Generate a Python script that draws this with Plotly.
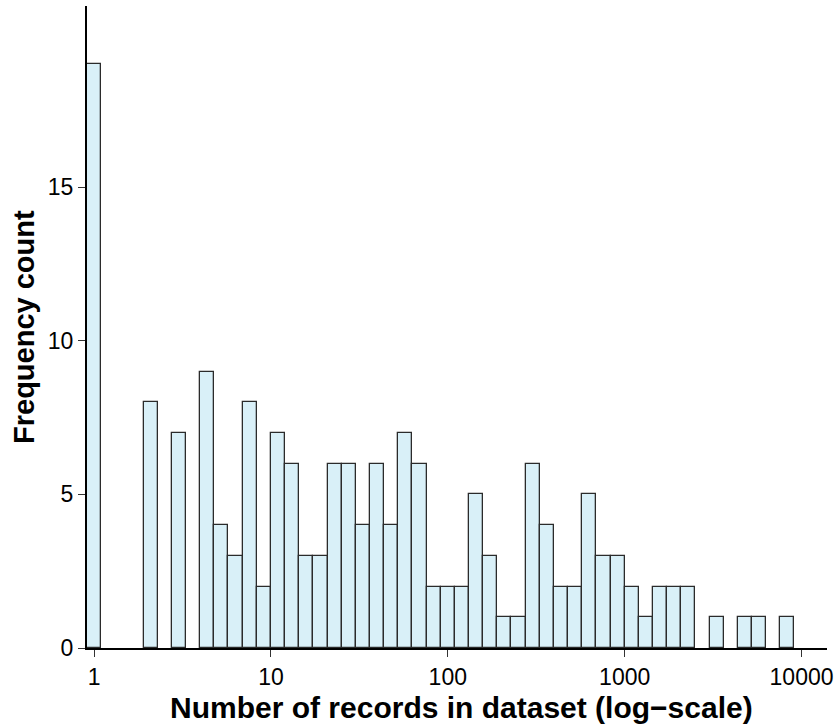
import plotly.graph_objects as go

# Histogram of dataset sizes, binned in log10 space (bin width 0.08 decades)
bin_width_log = 0.08
bin_index = list(range(50))
counts = [19, 0, 0, 0, 8, 0, 7, 0, 9, 4,
          3, 8, 2, 7, 6, 3, 3, 6, 6, 4,
          6, 4, 7, 6, 2, 2, 2, 5, 3, 1,
          1, 6, 4, 2, 2, 5, 3, 3, 2, 1,
          2, 2, 2, 0, 1, 0, 1, 1, 0, 1]
tick_vals_log = [0, 1, 2, 3, 4]
tick_labels = ["1", "10", "100", "1000", "10000"]
y_ticks = [0, 5, 10, 15]
x_title = "Number of records in dataset (log\u2212scale)"
y_title = "Frequency count"

centers = [k * bin_width_log for k in bin_index]
xs = [c for c, n in zip(centers, counts) if n > 0]
ys = [n for n in counts if n > 0]

fig = go.Figure(go.Bar(
    x=xs, y=ys, width=bin_width_log,
    marker=dict(color="#d9f0f8", line=dict(color="#2b2b2b", width=1.3)),
))

font = "Liberation Sans, Arial, Helvetica, sans-serif"
W, H = 839, 724
ml, mr, mt, mb = 87, 12, 6, 76
pw, ph = W - ml - mr, H - mt - mb

fig.update_layout(
    width=W, height=H,
    margin=dict(l=ml, r=mr, t=mt, b=mb),
    paper_bgcolor="white", plot_bgcolor="white",
    showlegend=False,
    bargap=0,
    font=dict(family=font, color="black"),
)
fig.update_xaxes(
    range=[-0.04, 4.144], automargin=False,
    tickmode="array", tickvals=tick_vals_log, ticktext=tick_labels,
    ticks="outside", ticklen=7, tickwidth=1, tickcolor="#333",
    showline=True, linecolor="black", linewidth=2,
    showgrid=False, zeroline=False,
    tickfont=dict(size=23, family=font),
)
fig.update_yaxes(
    range=[0, 20.9], automargin=False,
    tickmode="array", tickvals=y_ticks,
    ticks="outside", ticklen=7, tickwidth=1, tickcolor="#333",
    showline=True, linecolor="black", linewidth=2,
    showgrid=False, zeroline=False,
    tickfont=dict(size=23, family=font),
)
fig.add_annotation(
    text="<b>" + x_title + "</b>", xref="paper", yref="paper",
    x=(461.5 - ml) / pw, y=(H - mb - 707) / ph,
    xanchor="center", yanchor="middle", showarrow=False,
    font=dict(size=30, family=font, color="black"),
)
fig.add_annotation(
    text="<b>" + y_title + "</b>", xref="paper", yref="paper",
    x=(24 - ml) / pw, y=0.5, textangle=-90,
    xanchor="center", yanchor="middle", showarrow=False,
    font=dict(size=29, family=font, color="black"),
)

fig.write_html(
    "out.html",
    config={"displayModeBar": False},
    post_script="document.body.style.margin='0';document.body.style.overflow='hidden';",
)
